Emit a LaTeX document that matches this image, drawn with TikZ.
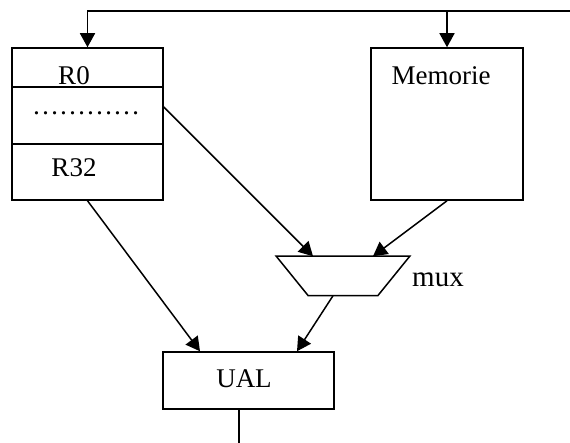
\documentclass[tikz,border=0pt]{standalone}
\usepackage{fontspec}
\setmainfont{Liberation Serif}
\usetikzlibrary{arrows.meta,calc}
\begin{document}
\begin{tikzpicture}[x=1pt,y=-1pt,
  line width=1.5pt,
  box/.style={draw,rectangle,inner sep=0pt},
  lbl/.style={anchor=base,inner sep=0pt,font=\fontsize{27}{30}\selectfont},
  arr/.style={-{Triangle[length=14pt,width=15pt]}}]
\useasboundingbox (0,0) rectangle (570,443);

% register file
\node[box,minimum width=151pt,minimum height=152pt] (reg) at (87.5,124) {};
\draw (12,87) coordinate (d1a) -- (163,87) coordinate (d1b);
\draw (12,144) coordinate (d2a) -- (163,144) coordinate (d2b);
\node[lbl] (r0) at (74,85) {R0};
\node[lbl] (dots) at (86,115) {…………};
\node[lbl] (r32) at (74,177) {R32};

% memory
\node[box,minimum width=152pt,minimum height=152pt] (mem) at (447,124) {};
\node[lbl] (memt) at (441,85) {Memorie};

% multiplexer
\node[minimum width=132pt,minimum height=38pt,inner sep=0pt] (mux) at (343,276) {};
\draw (mux.north west) -- (mux.north east) -- ([xshift=-32pt]mux.south east)
      -- ([xshift=32pt]mux.south west) -- cycle;
\node[lbl,font=\fontsize{29}{32}\selectfont] (muxt) at (438,287) {mux};

% ALU
\node[box,minimum width=171pt,minimum height=57pt] (ual) at (248.5,380.5) {};
\node[lbl] (ualt) at (244,388) {UAL};

% bus on top
\coordinate (busR) at (570,11);
\coordinate (busL) at (87.5,11);
\coordinate (busM) at (447,11);
\draw[arr] (busR) -- (busL) -- (reg.north);
\draw[arr] (busM) -- (mem.north);

% data paths
\draw[arr] ([yshift=17pt]reg.east) -- ([xshift=-30pt]mux.north);
\draw[arr] (mem.south) -- ([xshift=30pt]mux.north);
\draw[arr] (reg.south) -- ([xshift=-48.5pt]ual.north);
\draw[arr] ([xshift=-10pt]mux.south) -- ([xshift=48.5pt]ual.north);

% output
\coordinate (out) at (239,443);
\draw ([xshift=-9.5pt]ual.south) -- (out);
\end{tikzpicture}
\end{document}
